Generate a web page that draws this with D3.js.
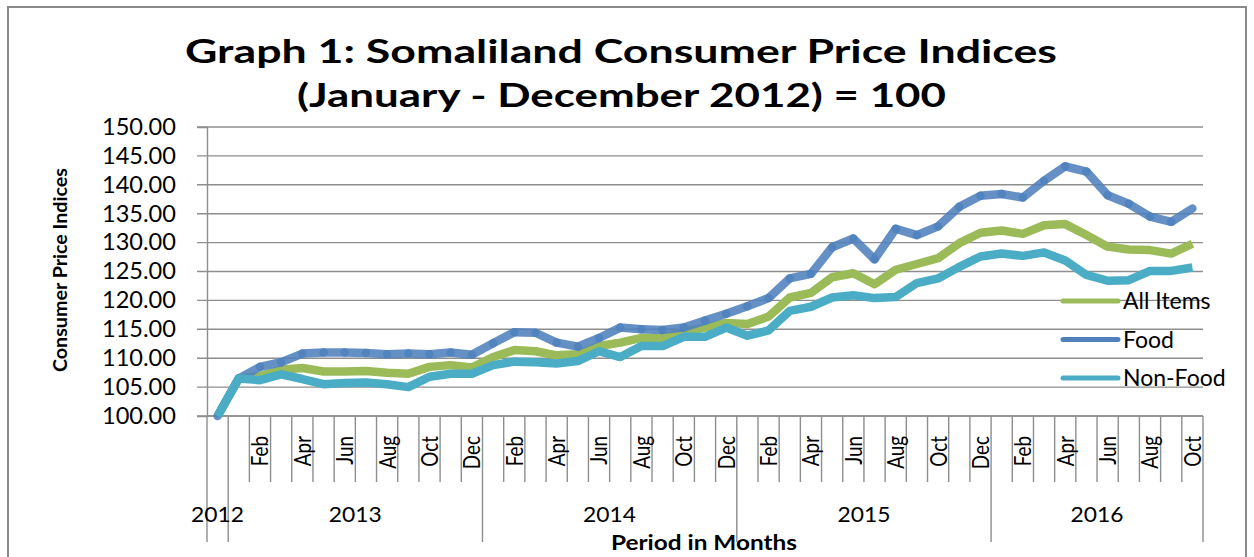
<!DOCTYPE html>
<html>
<head>
<meta charset="utf-8">
<script src="https://cdn.jsdelivr.net/npm/d3@7"></script>
<style>
  body { margin: 0; background: #fff; }
  text { font-family: Lato, "Open Sans", sans-serif; fill: #000; }
</style>
</head>
<body>
<div id="chart"></div>
<script>
// Base year 2012 plus monthly values Jan 2013 - Oct 2016
const monthNames = ["Jan", "Feb", "Mar", "Apr", "May", "Jun", "Jul", "Aug", "Sep", "Oct", "Nov", "Dec"];
const years = ["2012", "2013", "2014", "2015", "2016"];
const yearMonths = [[""], monthNames, monthNames, monthNames, monthNames.slice(0, 10)];

const allItems = [100,
    106.5, 106.9, 108.0, 108.3, 107.7, 107.7, 107.8, 107.5, 107.3, 108.5, 108.8, 108.4,
    110.2, 111.4, 111.2, 110.5, 110.7, 112.1, 112.7, 113.5, 113.5, 114.6, 115.3, 116.1,
    115.9, 117.2, 120.5, 121.3, 124.0, 124.7, 122.8, 125.3, 126.3, 127.3, 129.9, 131.7,
    132.1, 131.5, 133.0, 133.2, 131.3, 129.3, 128.8, 128.7, 128.1, 129.8];
const food = [100,
    106.5, 108.5, 109.3, 110.8, 111.0, 111.0, 110.9, 110.7, 110.8, 110.7, 111.0, 110.6,
    112.6, 114.5, 114.4, 112.7, 112.0, 113.5, 115.3, 115.0, 114.9, 115.3, 116.5, 117.7,
    119.0, 120.4, 123.8, 124.6, 129.2, 130.7, 127.1, 132.4, 131.3, 132.8, 136.2, 138.1,
    138.4, 137.8, 140.7, 143.2, 142.3, 138.2, 136.7, 134.5, 133.6, 135.9];
const nonFood = [100,
    106.5, 106.2, 107.2, 106.4, 105.5, 105.7, 105.8, 105.5, 105.0, 106.8, 107.3, 107.3,
    108.8, 109.4, 109.3, 109.1, 109.5, 111.2, 110.2, 112.1, 112.1, 113.7, 113.7, 115.3,
    113.9, 114.8, 118.2, 118.9, 120.5, 120.9, 120.4, 120.6, 123.0, 123.8, 125.8, 127.6,
    128.1, 127.7, 128.3, 126.9, 124.4, 123.4, 123.5, 125.1, 125.1, 125.7];

const yTicks = [100, 105, 110, 115, 120, 125, 130, 135, 140, 145, 150];

// flatten to one category per point
const categories = [];
years.forEach((yr, k) => yearMonths[k].forEach(m => categories.push({ year: yr, month: m })));

const seriesList = [
    { name: "All Items", values: allItems, color: "#9BBB59", opacity: 1, split: false },
    { name: "Food", values: food, color: "#4F81BD", opacity: 0.88, split: true },
    { name: "Non-Food", values: nonFood, color: "#4BACC6", opacity: 1, split: false }
];

const W = 1254, H = 557;
const plot = { left: 207, right: 1203, top: 127, bottom: 416 };

const svg = d3.select("#chart").append("svg")
    .attr("width", W)
    .attr("height", H);

svg.append("rect").attr("width", W).attr("height", H).attr("fill", "#fff");

// outer frame
svg.append("rect")
    .attr("x", 8).attr("y", 7)
    .attr("width", 1238).attr("height", 600)
    .attr("fill", "none")
    .attr("stroke", "#8a8a8a")
    .attr("stroke-width", 2);

const x = d3.scaleBand()
    .domain(d3.range(categories.length))
    .range([plot.left, plot.right])
    .padding(0);
const y = d3.scaleLinear().domain([100, 150]).range([plot.bottom, plot.top]);
const cx = i => x(i) + x.bandwidth() / 2;

// title
const title = svg.append("g").attr("font-weight", "bold").attr("font-size", 33);
title.append("text")
    .attr("x", 185).attr("y", 63)
    .attr("textLength", 872).attr("lengthAdjust", "spacingAndGlyphs")
    .text("Graph 1: Somaliland Consumer Price Indices");
title.append("text")
    .attr("x", 297).attr("y", 107)
    .attr("textLength", 649).attr("lengthAdjust", "spacingAndGlyphs")
    .text("(January - December 2012) = 100");

// gridlines
svg.append("g")
    .selectAll("line")
    .data(yTicks)
    .join("line")
    .attr("x1", plot.left - 10).attr("x2", plot.right)
    .attr("y1", d => y(d)).attr("y2", d => y(d))
    .attr("stroke", "#8e8e8e")
    .attr("stroke-width", 1.4);

// y axis
const yAxis = svg.append("g")
    .attr("transform", `translate(${plot.left},0)`)
    .call(d3.axisLeft(y).tickValues(yTicks).tickFormat(d3.format(".2f")).tickSize(10).tickPadding(21));
yAxis.select(".domain").attr("stroke", "#8e8e8e").attr("stroke-width", 1.4);
yAxis.selectAll(".tick line").attr("stroke", "none");
yAxis.selectAll(".tick text")
    .attr("font-family", "Lato, sans-serif")
    .attr("font-size", 23)
    .attr("textLength", 74).attr("lengthAdjust", "spacingAndGlyphs")
    .attr("fill", "#111");

svg.append("text")
    .attr("transform", "translate(67,270) rotate(-90)")
    .attr("text-anchor", "middle")
    .attr("font-size", 18)
    .attr("font-weight", "bold")
    .attr("textLength", 204).attr("lengthAdjust", "spacingAndGlyphs")
    .text("Consumer Price Indices");

// x axis: month boundaries, year separators
const boundaries = d3.range(categories.length + 1).map(i => i < categories.length ? x(i) : plot.right);
const yearStarts = [];
categories.forEach((c, i) => { if (i === 0 || c.year !== categories[i - 1].year) yearStarts.push(i); });
const yearEdges = yearStarts.concat([categories.length]);

const xAxis = svg.append("g");
xAxis.append("line")
    .attr("x1", plot.left).attr("x2", plot.right)
    .attr("y1", plot.bottom).attr("y2", plot.bottom)
    .attr("stroke", "#8e8e8e").attr("stroke-width", 1.4);
xAxis.selectAll("line.mt")
    .data(d3.range(boundaries.length))
    .join("line")
    .attr("class", "mt")
    .attr("x1", i => boundaries[i]).attr("x2", i => boundaries[i])
    .attr("y1", plot.bottom)
    .attr("y2", i => yearEdges.includes(i) ? 542 : 482)
    .attr("stroke", "#8e8e8e").attr("stroke-width", 1.4);

// month labels every other category
xAxis.selectAll("text.month")
    .data(categories.map((c, i) => ({ c, i })).filter(d => d.i % 2 === 0 && d.c.month))
    .join("text")
    .attr("class", "month")
    .attr("transform", d => `translate(${cx(d.i) + 8.4},436) rotate(-90) scale(0.82,1)`)
    .attr("text-anchor", "end")
    .attr("font-size", 23)
    .attr("fill", "#111")
    .text(d => d.c.month);

// year labels
xAxis.selectAll("text.year")
    .data(years.map((yr, k) => ({ yr, a: yearEdges[k], b: yearEdges[k + 1] })))
    .join("text")
    .attr("class", "year")
    .attr("x", d => (boundaries[d.a] + boundaries[d.b]) / 2)
    .attr("y", 522)
    .attr("text-anchor", "middle")
    .attr("font-size", 22)
    .attr("textLength", 53).attr("lengthAdjust", "spacingAndGlyphs")
    .attr("fill", "#111")
    .text(d => d.yr);

svg.append("text")
    .attr("x", 704).attr("y", 550)
    .attr("text-anchor", "middle")
    .attr("font-size", 21)
    .attr("font-weight", "bold")
    .attr("textLength", 186).attr("lengthAdjust", "spacingAndGlyphs")
    .text("Period in Months");

// series lines
const line = d3.line().x((d, i) => cx(i)).y(d => y(d));
seriesList.forEach(s => {
    if (s.split) {
        // drawn segment by segment so joints overlap like the original
        svg.append("g").selectAll("line")
            .data(d3.pairs(s.values.map((v, i) => ({ v, i }))))
            .join("line")
            .attr("x1", d => cx(d[0].i)).attr("y1", d => y(d[0].v))
            .attr("x2", d => cx(d[1].i)).attr("y2", d => y(d[1].v))
            .attr("stroke", s.color)
            .attr("stroke-opacity", s.opacity)
            .attr("stroke-width", 8.5)
            .attr("stroke-linecap", "round");
    } else {
        svg.append("path")
            .datum(s.values)
            .attr("d", line)
            .attr("fill", "none")
            .attr("stroke", s.color)
            .attr("stroke-width", 8.5)
            .attr("stroke-linejoin", "round");
    }
});

// legend
const legend = svg.append("g")
    .selectAll("g")
    .data(seriesList)
    .join("g")
    .attr("transform", (d, i) => `translate(1063,${301 + i * 38.5})`);
legend.append("line")
    .attr("x1", 0).attr("x2", 55)
    .attr("stroke", d => d.color)
    .attr("stroke-width", 5)
    .attr("stroke-linecap", "round");
legend.append("text")
    .attr("x", 60)
    .attr("dy", "0.36em")
    .attr("font-size", 23)
    .attr("fill", "#111")
    .text(d => d.name);
</script>
</body>
</html>
